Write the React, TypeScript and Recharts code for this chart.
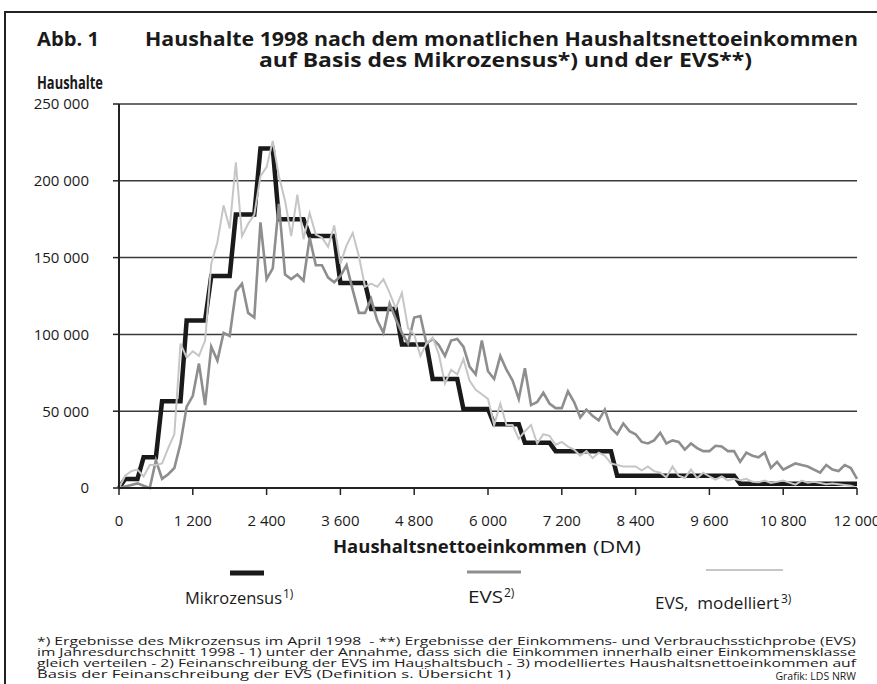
import React from "react";
import { LineChart, Line, XAxis, YAxis, CartesianGrid } from "recharts";

const W = 877;
const H = 684;

// income grid in DM, one point every 100 DM from 0 to 12 000
const incomeStep = 100;
const xTicks = [0, 1200, 2400, 3600, 4800, 6000, 7200, 8400, 9600, 10800, 12000];
const yTicks = [0, 50, 100, 150, 200, 250]; // Tsd. Haushalte

// Mikrozensus: income classes (upper bounds) and households per 100 DM, in 1000
const mzBounds = [0, 300, 600, 1000, 1400, 1800, 2200, 2500, 3000, 3500, 4000, 4500, 5000, 5500, 6000, 6500, 7000, 8000, 10000, 12000];
const mzValues = [5.8, 20, 56.5, 109, 138, 178, 221, 175, 164, 133.5, 116.5, 93.5, 71, 51.5, 41.5, 29.5, 24, 8, 2.7];

// EVS, Feinanschreibung (in 1000)
const evs = [
  0, 1, 2, 3, 1.5, 0, 18, 6, 9, 13,
  29, 53, 60, 81, 54, 92, 83, 101, 99, 128,
  133, 114, 111, 173, 136, 143, 185, 139, 136, 139,
  135, 163, 145, 145, 137, 134, 138, 145, 129, 114,
  114, 123, 109, 101, 120, 110, 101, 94, 111, 112,
  94, 97, 93, 86, 96, 97, 92, 79, 74, 96,
  76, 71, 86, 77, 70, 58, 78, 54, 56, 62,
  55, 52, 52, 63, 56, 46, 51, 47, 44, 51,
  39, 35, 42, 37, 35, 30, 29, 31, 36, 29,
  31, 30, 25, 29, 26, 24, 24, 27.5, 27, 24,
  24, 17, 23, 21, 20, 23, 13, 17, 12, 14,
  16, 15, 14, 12, 10, 15, 12, 11, 15, 13,
  6,
];

// EVS, modelliert (in 1000)
const evsMod = [
  0, 8, 11, 12, 7.5, 15, 15, 16, 26, 35,
  94, 85, 89, 86, 96, 146, 160, 184, 169, 212,
  164, 172, 178, 203, 209, 226, 203, 187, 164, 191,
  162, 179, 165, 163, 157, 171, 146, 158, 166, 151,
  131, 133, 131, 136, 127, 117, 127, 104, 100, 86,
  94, 98, 87, 68, 77, 74, 84, 70, 64, 61,
  58, 41, 55, 41, 41, 32, 37, 41, 29, 35,
  34, 28, 30, 27, 25, 21, 24, 19.5, 23, 21,
  16, 15, 14, 14, 14, 11.5, 14, 11, 10, 7,
  14, 8, 6.5, 12, 6.5, 10, 7.5, 5.5, 7.5, 5,
  6, 5, 6, 4, 3.7, 4.8, 3.3, 4, 4.8, 3.5,
  2.2, 4.8, 3.5, 4, 3.3, 2.5, 3, 2.5, 2, 1.5,
  0.2,
];

const mzAt = (x: number) => {
  if (x <= 0) return 0;
  for (let i = 1; i < mzBounds.length; i++) {
    if (x <= mzBounds[i]) return mzValues[i - 1];
  }
  return mzValues[mzValues.length - 1];
};

const data = evs.map((v, i) => {
  const x = i * incomeStep;
  return { x, mz: mzAt(x), evs: v, mod: evsMod[i] };
});

const fmt = (v: number) => {
  if (v < 1000) return String(v);
  return `${Math.floor(v / 1000)} ${String(v % 1000).padStart(3, "0")}`;
};
const fmtY = (v: number) => (v === 0 ? "0" : `${v} 000`);

const FONT = "'Open Sans', 'DejaVu Sans', sans-serif";
const INK = "#1a1a1a";

function Overlay() {
  const t = { fontFamily: FONT, fill: INK };
  return (
    <svg width={W} height={H} style={{ position: "absolute", left: 0, top: 0, pointerEvents: "none" }}>
      {/* frame */}
      <path d={`M5 ${H} L5 12 L${W} 12`} fill="none" stroke="#222" strokeWidth={2} />

      {/* title */}
      <text x={37} y={46} {...t} fontSize={19} fontWeight={700} textLength={62} lengthAdjust="spacingAndGlyphs">Abb. 1</text>
      <text x={145} y={46} {...t} fontSize={19} fontWeight={700} textLength={713} lengthAdjust="spacingAndGlyphs">
        Haushalte 1998 nach dem monatlichen Haushaltsnettoeinkommen
      </text>
      <text x={259} y={67} {...t} fontSize={19} fontWeight={700} textLength={493} lengthAdjust="spacingAndGlyphs">
        auf Basis des Mikrozensus*) und der EVS**)
      </text>
      <text x={37} y={89} {...t} fontSize={17} fontWeight={700} textLength={66} lengthAdjust="spacingAndGlyphs">Haushalte</text>

      {/* x axis title */}
      <text x={333} y={553} {...t} fontSize={17} fontWeight={700} textLength={254} lengthAdjust="spacingAndGlyphs">
        Haushaltsnettoeinkommen
      </text>
      <text x={593} y={553} {...t} fontSize={17} textLength={48} lengthAdjust="spacingAndGlyphs">(DM)</text>

      {/* legend */}
      <line x1={230} y1={573} x2={264} y2={573} stroke="#1a1a1a" strokeWidth={5} />
      <line x1={467} y1={572} x2={521} y2={572} stroke="#8e8e8e" strokeWidth={3} />
      <line x1={706} y1={570} x2={783} y2={570} stroke="#c6c6c6" strokeWidth={2} />
      <text x={185} y={604} {...t} fontSize={16} textLength={97} lengthAdjust="spacingAndGlyphs">Mikrozensus</text>
      <text x={283} y={598} {...t} fontSize={12}>1)</text>
      <text x={468} y={603} {...t} fontSize={16} textLength={35} lengthAdjust="spacingAndGlyphs">EVS</text>
      <text x={504} y={597} {...t} fontSize={12}>2)</text>
      <text x={655} y={609} {...t} fontSize={16} textLength={124} lengthAdjust="spacingAndGlyphs">{"EVS,\u00a0 modelliert"}</text>
      <text x={781} y={603} {...t} fontSize={12}>3)</text>

      {/* footnotes */}
      <text x={37} y={645} {...t} fontSize={11} textLength={819} lengthAdjust="spacingAndGlyphs">
        {"*) Ergebnisse des Mikrozensus im April 1998\u00a0 - **) Ergebnisse der Einkommens- und Verbrauchsstichprobe (EVS)"}
      </text>
      <text x={37} y={656} {...t} fontSize={11} textLength={819} lengthAdjust="spacingAndGlyphs">
        im Jahresdurchschnitt 1998 - 1) unter der Annahme, dass sich die Einkommen innerhalb einer Einkommensklasse
      </text>
      <text x={37} y={667} {...t} fontSize={11} textLength={819} lengthAdjust="spacingAndGlyphs">
        gleich verteilen - 2) Feinanschreibung der EVS im Haushaltsbuch - 3) modelliertes Haushaltsnettoeinkommen auf
      </text>
      <text x={37} y={678} {...t} fontSize={11} textLength={474} lengthAdjust="spacingAndGlyphs">
        Basis der Feinanschreibung der EVS (Definition s. Übersicht 1)
      </text>
      <text x={856} y={680} {...t} fontSize={10.5} textAnchor="end">Grafik: LDS NRW</text>
    </svg>
  );
}

export default function App() {
  return (
    <div style={{ position: "absolute", left: 0, top: 0, width: W, height: H, background: "#fff" }}>
      <LineChart width={W} height={H} data={data} margin={{ top: 104, right: 20, left: 0, bottom: 156 }}>
        <CartesianGrid yAxisId="l" horizontal vertical={false} stroke="#3a3a3a" strokeWidth={1.5} />
        <XAxis
          dataKey="x"
          type="number"
          domain={[0, 12000]}
          ticks={xTicks}
          tickFormatter={fmt}
          height={40}
          tickSize={7}
          tickMargin={20}
          interval={0}
          axisLine={{ stroke: "#222", strokeWidth: 2 }}
          tickLine={{ stroke: "#222", strokeWidth: 1.5 }}
          tick={{ fill: INK, fontSize: 15, fontFamily: FONT }}
        />
        <YAxis
          yAxisId="l"
          domain={[0, 250]}
          ticks={yTicks}
          tickFormatter={fmtY}
          width={119}
          tickSize={6}
          tickMargin={24}
          interval={0}
          axisLine={{ stroke: "#222", strokeWidth: 2 }}
          tickLine={{ stroke: "#222", strokeWidth: 1.5 }}
          tick={{ fill: INK, fontSize: 15, fontFamily: FONT }}
        />
        <YAxis
          yAxisId="r"
          orientation="right"
          domain={[0, 250]}
          width={0}
          tick={false}
          tickLine={false}
          axisLine={{ stroke: "#222", strokeWidth: 2 }}
        />
        <Line yAxisId="l" dataKey="mz" type="linear" stroke="#1a1a1a" strokeWidth={4.5} dot={false} isAnimationActive={false} />
        <Line yAxisId="l" dataKey="evs" type="linear" stroke="#8e8e8e" strokeWidth={2.6} dot={false} isAnimationActive={false} />
        <Line yAxisId="l" dataKey="mod" type="linear" stroke="#c6c6c6" strokeWidth={2} dot={false} isAnimationActive={false} />
      </LineChart>
      <Overlay />
    </div>
  );
}
